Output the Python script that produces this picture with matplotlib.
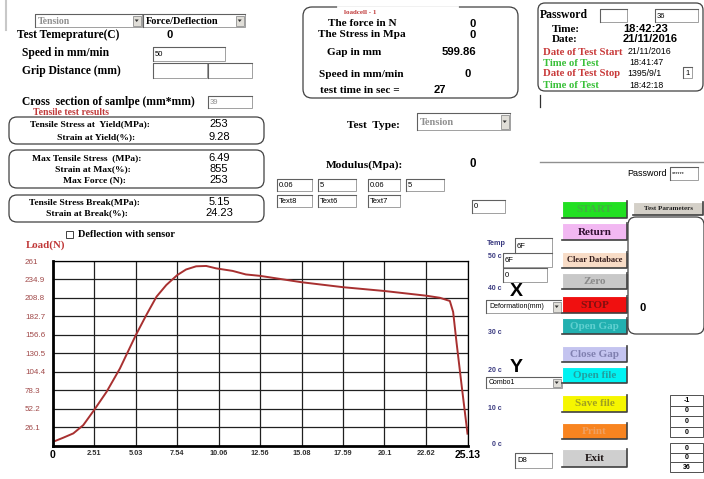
import numpy as np
import matplotlib
matplotlib.use("Agg")
import matplotlib.pyplot as plt
from matplotlib.patches import Rectangle, FancyBboxPatch, Polygon

W, H = 704, 479
SERIF = "Liberation Serif"
SANS = "Liberation Sans"

# force / deflection curve
deflection = [0.14, 0.64, 1.25, 1.85, 2.51, 3.26, 4.07, 5.03, 5.68, 6.29, 6.88,
              7.54, 8.08, 8.69, 9.30, 9.90, 10.9, 11.7, 12.56, 15.08, 17.59,
              20.1, 22.62, 23.46, 24.06, 24.26, 24.46, 24.77, 25.13]
load = [6.6, 11.3, 17.4, 29.0, 50.4, 76.0, 109.0, 156.0, 185.0, 210.6, 227.0,
        241.0, 249.0, 253.5, 254.0, 250.6, 247.0, 242.0, 240.0, 231.0, 224.0,
        218.6, 212.0, 209.0, 204.5, 189.0, 147.0, 86.0, 17.0]

x_ticks = [0, 2.51, 5.03, 7.54, 10.06, 12.56, 15.08, 17.59, 20.1, 22.62, 25.13]
y_ticks = [26.1, 52.2, 78.3, 104.4, 130.5, 156.6, 182.7, 208.8, 234.9, 261]

yield_labels = ["Tensile Stress at  Yield(MPa):", "Strain at Yield(%):"]
yield_values = ["253", "9.28"]
max_labels = ["Max Tensile Stress  (MPa):", "Strain at Max(%):", "Max Force (N):"]
max_values = ["6.49", "855", "253"]
break_labels = ["Tensile Stress Break(MPa):", "Strain at Break(%):"]
break_values = ["5.15", "24.23"]

loadcell_labels = ["The force in N", "The Stress in Mpa", "Gap in mm",
                   "Speed in mm/min", "test time in sec ="]
loadcell_values = ["0", "0", "599.86", "0", "27"]

buttons = ["START", "Return", "Clear Databace", "Zero", "STOP", "Open Gap",
           "Close Gap", "Open file", "Save file", "Print", "Exit"]
button_fill = ["#22e022", "#f2b8f2", "#f8dcc6", "#c8c8c8", "#f01010", "#22b0b0",
               "#c4c4f0", "#00f2f2", "#f6f600", "#f88420", "#cfcfcf"]
button_text = ["#40b040", "#301030", "#301818", "#8a8a8a", "#801010", "#60d0d0",
               "#8080b0", "#20a0a0", "#a0a020", "#f0a060", "#201818"]

temp_labels = ["50 c", "40 c", "30 c", "20 c", "10 c", "0 c"]
table_a = ["-1", "0", "0", "0"]
table_b = ["0", "0", "36"]

fig = plt.figure(figsize=(W / 100, H / 100), dpi=100)
fig.patch.set_facecolor("white")
ui = fig.add_axes([0, 0, 1, 1])
ui.set_xlim(0, W)
ui.set_ylim(H, 0)
ui.axis("off")


def t(x, y, s, size=8, ha="left", color="black", weight="bold", family=SERIF, **kw):
    ui.text(x, y, s, fontsize=size, ha=ha, va="center", color=color,
            fontweight=weight, family=family, **kw)


def tbox(x0, y0, x1, y1, text="", color="black", size=5.5, family=SANS):
    ui.add_patch(Rectangle((x0, y0), x1 - x0, y1 - y0, fc="white",
                           ec="#a0a0a0", lw=0.7))
    ui.plot([x0, x0, x1], [y1, y0, y0], color="#606060", lw=0.8)
    if text:
        t(x0 + 2, (y0 + y1) / 2 + 0.5, text, size=size, color=color,
          weight="normal", family=family)


def combo(x0, y0, x1, y1, text, color="black", size=5.5, family=SANS, weight="normal"):
    tbox(x0, y0, x1, y1)
    ui.add_patch(Rectangle((x1 - 9, y0 + 1.5), 7.5, y1 - y0 - 3, fc="#e0ded8",
                           ec="#909090", lw=0.6))
    cx, cy = x1 - 5.3, (y0 + y1) / 2
    ui.add_patch(Polygon([[cx - 2, cy - 1], [cx + 2, cy - 1], [cx, cy + 1.5]],
                         closed=True, fc="#303030", ec="none"))
    t(x0 + 3, (y0 + y1) / 2 + 0.5, text, size=size, color=color,
      weight=weight, family=family)


def rbox(x0, y0, x1, y1, r=8, ec="#404040"):
    ui.add_patch(FancyBboxPatch((x0, y0), x1 - x0, y1 - y0,
                                boxstyle=f"round,pad=0,rounding_size={r}",
                                fc="none", ec=ec, lw=0.9))


def button(x0, y0, x1, y1, fc, label, tc, size=7.5):
    ui.add_patch(Rectangle((x0, y0), x1 - x0, y1 - y0, fc=fc, ec="none"))
    ui.plot([x0, x0, x1], [y1, y0, y0], color="white", lw=0.8)
    ui.plot([x0, x1, x1], [y1, y1, y0], color="#404040", lw=1.2)
    t((x0 + x1) / 2, (y0 + y1) / 2 + 0.5, label, size=size, ha="center", color=tc)


# ---- left settings panel
ui.plot([6, 6], [0, 30], color="#c8c8c8", lw=1.5)
combo(35, 14, 142, 27, "Tension", color="#909090", size=7, family=SERIF, weight="bold")
combo(143, 14, 245, 27, "Force/Deflection", size=7.5, family=SERIF, weight="bold")
t(17, 35, "Test Temeprature(C)", size=8.3)
t(170, 35, "0", size=8, family=SANS, ha="center")
t(22, 53, "Speed in mm/min", size=8.3)
tbox(153, 47, 225, 61, "50")
t(22, 71, "Grip Distance (mm)", size=8.3)
tbox(153, 63, 207, 78)
tbox(208, 63, 252, 78)
t(22, 102, "Cross  section of samlpe (mm*mm)", size=8.3)
tbox(208, 96, 252, 108, "39", color="#909090")
t(33, 112.5, "Tensile test results", size=7, color="#c03a3a")

rbox(9, 117, 264, 144)
for lab, val, cx, y in zip(yield_labels, yield_values, [90, 96], [124, 137]):
    t(cx, y, lab, size=6.8, ha="center")
    t(219, y, val, size=8, ha="center", family=SANS, weight="normal")
rbox(9, 150, 264, 188)
for lab, val, cx, y in zip(max_labels, max_values, [87, 93, 94], [158, 169, 180]):
    t(cx, y, lab, size=6.8, ha="center")
    t(219, y, val, size=8, ha="center", family=SANS, weight="normal")
rbox(9, 195, 264, 222)
for lab, val, cx, y in zip(break_labels, break_values, [84, 87], [202, 213]):
    t(cx, y, lab, size=6.8, ha="center")
    t(219, y, val, size=8, ha="center", family=SANS, weight="normal")

ui.add_patch(Rectangle((66, 231), 7, 7, fc="white", ec="#404040", lw=0.7))
t(78, 234, "Deflection with sensor", size=7.4)

# ---- loadcell panel
ui.add_patch(FancyBboxPatch((303, 7), 215, 91, boxstyle="round,pad=0,rounding_size=9",
                            fc="none", ec="#404040", lw=0.9))
ui.plot([338, 457], [7, 7], color="white", lw=2)
t(360, 12, "loadcell - 1", size=5, ha="center", color="#c03a3a")
for lab, val, cx, vx, y in zip(loadcell_labels, loadcell_values,
                               [362, 362, 354, 361, 360], [473, 473, 459, 468, 440],
                               [23.5, 34.5, 52, 74, 90]):
    t(cx, y, lab, size=8.1, ha="center")
    t(vx, y, val, size=8.1, ha="center", family=SANS)

t(373, 125, "Test  Type:", size=8.2, ha="center")
combo(417, 113, 510, 130, "Tension", color="#909090", size=7.5, family=SERIF, weight="bold")
t(364, 165, "Modulus(Mpa):", size=8.2, ha="center")
t(473, 164, "0", size=8.3, ha="center", family=SANS)
tbox(277, 179, 312, 191, "0.06")
tbox(318, 179, 356, 191, "5")
tbox(368, 179, 400, 191, "0.06")
tbox(406, 179, 444, 191, "5")
tbox(277, 195, 312, 207, "Text8")
tbox(318, 195, 356, 207, "Text6")
tbox(368, 195, 400, 207, "Text7")
tbox(472, 200, 505, 213, "0")

# ---- time / password panel
rbox(538, 3, 703, 91, r=7)
t(540, 15, "Password", size=8.4)
tbox(600, 9, 627, 22)
tbox(655, 9, 698, 22, "36")
t(552, 29, "Time:", size=8)
t(623, 29, "18:42:23", size=8, family=SANS)
t(552, 39, "Date:", size=8)
t(623, 39, "21/11/2016", size=8, family=SANS)
t(543, 52, "Date of Test Start", size=7.7, color="#c83838")
t(628, 51, "21/11/2016", size=6.3, family=SANS, weight="normal")
t(543, 63, "Time of Test", size=7.7, color="#38c038")
t(629, 62, "18:41:47", size=6.3, family=SANS, weight="normal")
t(543, 73, "Date of Test Stop", size=7.7, color="#c83838")
t(627, 73, "1395/9/1", size=6.3, family=SANS, weight="normal")
tbox(683, 67, 692, 78, "1")
t(543, 85, "Time of Test", size=7.7, color="#38c038")
t(629, 85, "18:42:18", size=6.3, family=SANS, weight="normal")

ui.plot([540, 540], [95, 107], color="#303030", lw=0.9)
ui.plot([540, 704], [162, 162], color="#909090", lw=1.0)
t(627, 173, "Password", size=6.5, family=SANS, weight="normal")
tbox(670, 167, 698, 180, "******", size=4)

# ---- Temperature / axis selectors
t(487, 243, "Temp", size=5.2, family=SANS, color="#3a3a80")
tbox(515, 238, 552, 253, "6F")
tbox(503, 253, 552, 267, "6F")
tbox(503, 268, 547, 282, "0")
for lab, y in zip(temp_labels, [257, 289, 332, 370, 408, 444]):
    t(502, y, lab, size=5, ha="right", family=SANS, color="#3a3a80")
t(516, 291, "X", size=14, ha="center", family=SANS)
combo(486, 300, 562, 313, "Deformation(mm)", size=5)
t(516, 368, "Y", size=14, ha="center", family=SANS)
combo(486, 377, 562, 388, "Combo1", size=5)
tbox(515, 453, 552, 468, "D8")

# ---- buttons
button_y = [(201, 218), (223, 240), (252, 268), (273, 289), (296, 313), (318, 334),
            (346, 362), (367, 383), (395, 412), (423, 439), (449, 467)]
for lab, fc, tc, (y0, y1) in zip(buttons, button_fill, button_text, button_y):
    size = 6 if lab == "Clear Databace" else 8
    button(562, y0, 627, y1, fc, lab, tc, size=size)

button(633, 202, 703, 215, "#d4d0c8", "Test Parameters", "#202020", size=5)
ui.add_patch(FancyBboxPatch((628, 217), 76, 117, boxstyle="round,pad=0,rounding_size=8",
                            fc="white", ec="#404040", lw=0.9))
t(643, 308, "0", size=8, ha="center", family=SANS)

for i, v in enumerate(table_a):
    y0 = 395 + i * 10.5
    ui.add_patch(Rectangle((670, y0), 33, 10.5, fc="white", ec="#505050", lw=0.7))
    t(686.5, y0 + 5.5, v, size=5, ha="center", family=SANS)
for i, v in enumerate(table_b):
    y0 = 443 + i * 9.7
    ui.add_patch(Rectangle((670, y0), 33, 9.7, fc="white", ec="#505050", lw=0.7))
    t(686.5, y0 + 5, v, size=5, ha="center", family=SANS)

# ---- the chart
x0p, x1p, y0p, y1p = 52.7, 467.5, 261.0, 445.7
ax = fig.add_axes([x0p / W, 1 - y1p / H, (x1p - x0p) / W, (y1p - y0p) / H])
ax.plot(deflection, load, color="#a83030", lw=1.4)
ax.set_xlim(0, 25.13)
ax.set_ylim(0, 261)
ax.set_xticks(x_ticks)
ax.set_xticklabels([str(v) for v in x_ticks])
ax.set_yticks(y_ticks)
ax.set_yticklabels([str(v) for v in y_ticks])
ax.grid(True, color="#202020", lw=0.9)
ax.tick_params(axis="x", length=0, pad=3, labelsize=5.3, labelcolor="#303030")
ax.tick_params(axis="y", length=0, pad=20, labelsize=5.8, labelcolor="#a04848")
for lbl in ax.get_xticklabels():
    lbl.set_fontweight("bold")
    lbl.set_family(SANS)
    if lbl.get_text() in ("0", "25.13"):
        lbl.set_fontsize(7.5)
        lbl.set_color("black")
for lbl in ax.get_yticklabels():
    lbl.set_ha("left")
    lbl.set_family(SANS)
for side in ("left", "bottom"):
    ax.spines[side].set_linewidth(2.0)
for side in ("top", "right"):
    ax.spines[side].set_linewidth(0.9)
ui.text(26, 245, "Load(N)", fontsize=7.8, fontweight="bold", family=SERIF,
        color="#c03838", va="center")

fig.savefig("out.png", dpi=100)
